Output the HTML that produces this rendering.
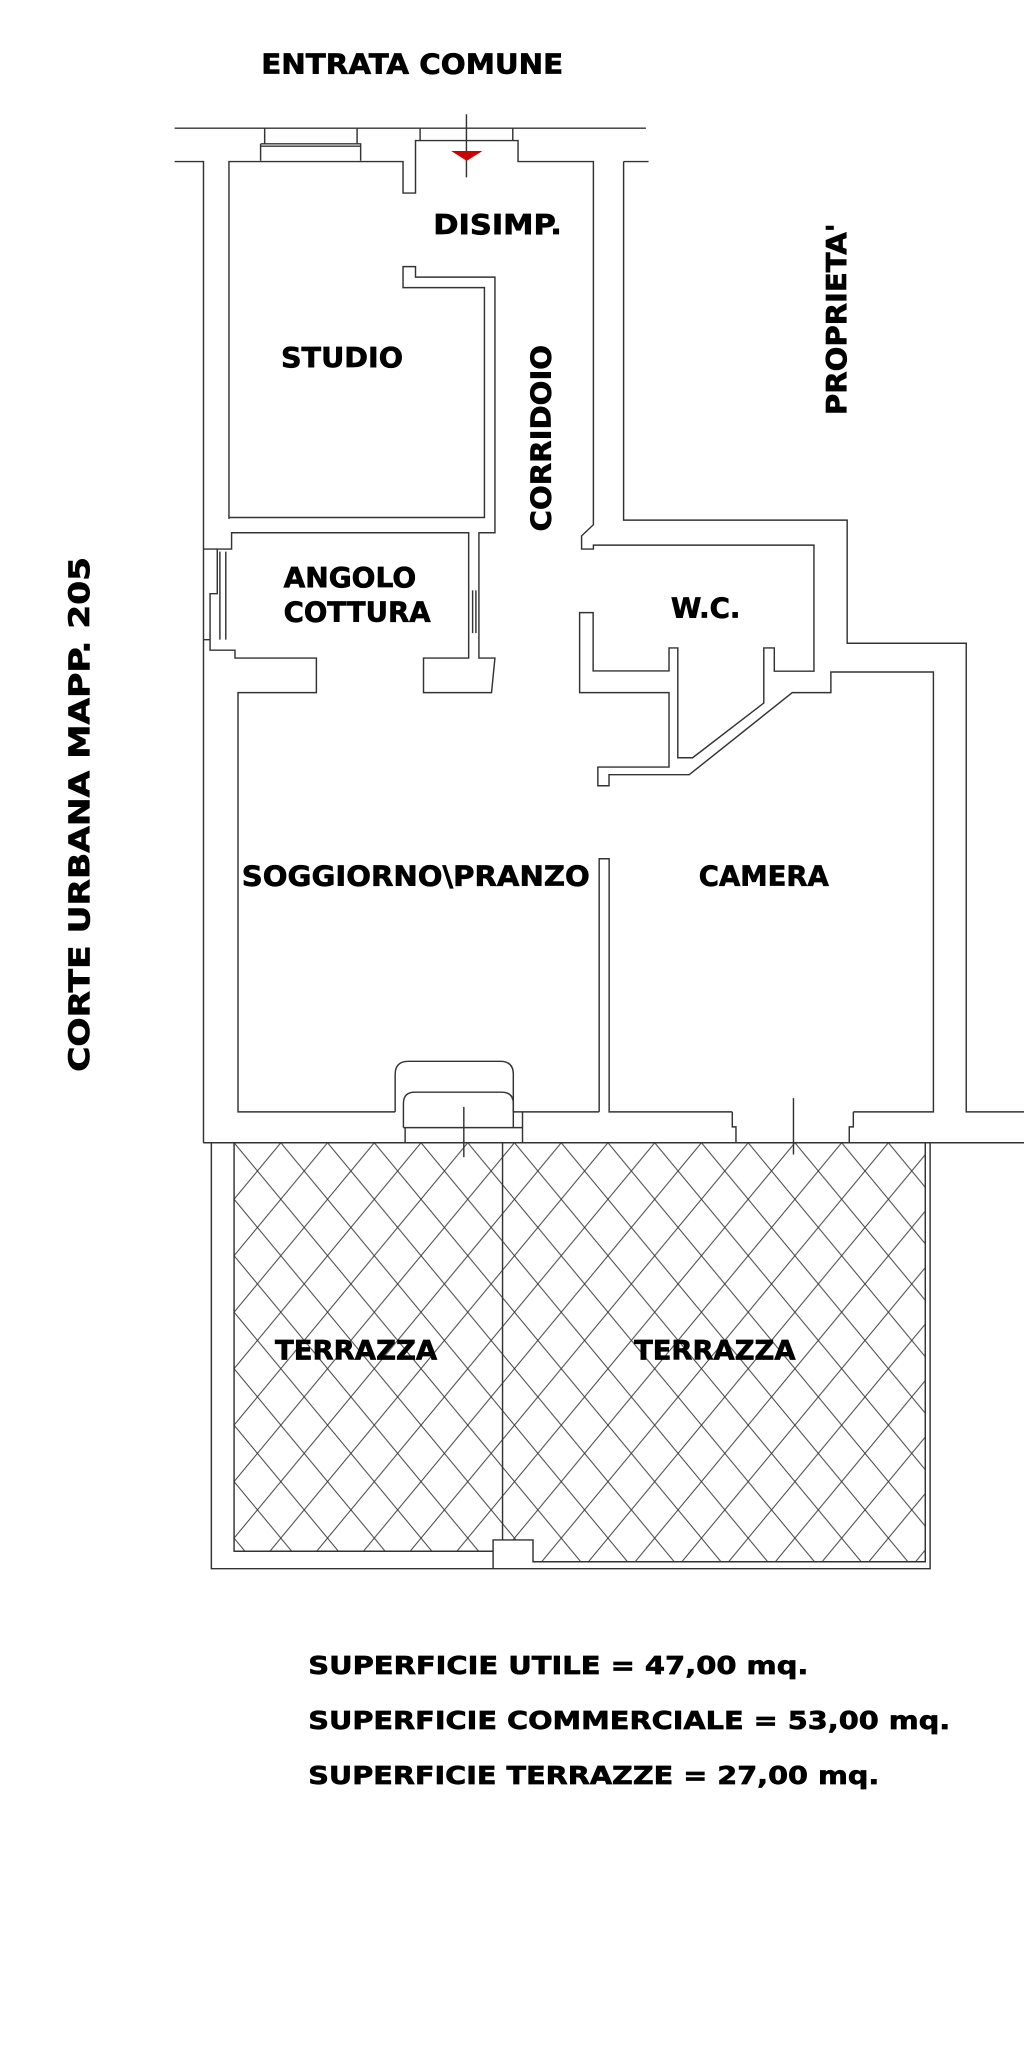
<!DOCTYPE html>
<html><head><meta charset="utf-8"><style>
html,body{margin:0;padding:0;background:#fff}
svg{display:block}
text{font-family:"DejaVu Sans","Liberation Sans",sans-serif;font-weight:bold;fill:#000;stroke:#000;stroke-width:0.5}
</style></head><body>
<svg width="1024" height="2053" viewBox="0 0 780 1563" preserveAspectRatio="none" xmlns="http://www.w3.org/2000/svg">
<defs>
<pattern id="h" patternUnits="userSpaceOnUse" width="35.6" height="43" x="178.3" y="870">
<path d="M0,0 L35.6,43 M35.6,0 L0,43" stroke="#333" stroke-width="0.7" fill="none"/>
</pattern>
</defs>
<rect x="178.3" y="870" width="204.5" height="311" fill="url(#h)"/>
<path d="M382.8,870 H704.8 V1189 H406 V1172.4 H382.8 Z" fill="url(#h)"/>
<g fill="none" stroke="#333" stroke-width="1.1">
<path d="M133,97.6 H492"/>
<path d="M201.6,97.6 V109.5 M272,97.6 V109.5 M198.5,109.5 H274.7 V122.4 M198.5,109.5 V122.4 M198.5,111.3 H274.7"/>
<path d="M320,97.6 V107 M390.6,97.6 V107"/>
<path d="M355.3,87 V135"/>
<path d="M133,123 H155 V870"/>
<path d="M475,123 H494"/>
<path d="M174.4,395 V123 H307 V147 H316.5 V107 H394.6 V123 H452 V399.5 L443,408 V418 H452 V415 H620 V511 H589.8 V493.3 H581.8 V535.2 L527.6,576.9 H516.3 V493.3 H509.6 V510.8 H451.8 V466.4 H441.5 V527.3 H509.6 V584 H455.4 V598.2 H463.9 V589.8 H525 L603.5,527.3 H632.9 V511.6 H711 V846.5 H650"/>
<path d="M174.4,394 H369 V219 H307 V203 H316.5 V211 H377 V405.6 H364.8 V501 H377 L374.4,527.3 H322.6 V501 H357 V405.6 H176.4 V418 H165.5 V452 H160 V495 H179 V501 H241 V527.3 H181.3 V846.5 H301"/>
<path d="M155,418 H165.5 M155,487 H160 M167.5,420 V487 M172,420 V487" />
<path d="M360,449.5 V482 M362.5,449.5 V482"/>
<path d="M475,123 V396 H645.3 V489.7 H736 V846.5 H780"/>
<path d="M456.4,846.5 V653.8 H464 V846.5 H557.8"/>
<path d="M301,846.5 V818 Q301,808 311,808 H381 Q391,808 391,818 V846.5"/>
<path d="M307.3,858.5 V840 Q307.3,831.5 316,831.5 H382 Q391,831.5 391,840 V858.5"/>
<path d="M307.3,858.5 H398 M398,846.5 V870 M308.6,858.5 V870 M391,846.5 H456.4"/>
<path d="M353.3,842.7 V881"/>
<path d="M557.8,846.5 V857.9 H560.6 V870 M650,846.5 V857.9 H646.9 V870"/>
<path d="M604.4,836 V879"/>
<path d="M154.8,870 H780"/>
<path d="M161,870 V1194.3 H708.5 V870"/>
<path d="M178.3,870 V1181 H375.6 M375.6,1194.3 V1172.4 H406 V1189 H704.8 V870"/>
<path d="M382.8,870 V1172.4"/>
</g>
<path d="M343.7,115 H367.5 L355.5,122.5 Z" fill="#c00"/>
<g>
<text x="199" y="56" font-size="21" textLength="230" lengthAdjust="spacingAndGlyphs">ENTRATA  COMUNE</text>
<text x="330" y="178" font-size="21" textLength="98" lengthAdjust="spacingAndGlyphs">DISIMP.</text>
<text x="214" y="279.5" font-size="21" textLength="93" lengthAdjust="spacingAndGlyphs">STUDIO</text>
<text transform="translate(419.5,404.6) rotate(-90)" font-size="21" textLength="142" lengthAdjust="spacingAndGlyphs">CORRIDOIO</text>
<text transform="translate(644.6,316) rotate(-90)" font-size="21" textLength="146" lengthAdjust="spacingAndGlyphs">PROPRIETA'</text>
<text x="216" y="447" font-size="21" textLength="101" lengthAdjust="spacingAndGlyphs">ANGOLO</text>
<text x="216" y="473.3" font-size="21" textLength="112" lengthAdjust="spacingAndGlyphs">COTTURA</text>
<text x="511" y="470.2" font-size="21" textLength="53" lengthAdjust="spacingAndGlyphs">W.C.</text>
<text x="184.2" y="674" font-size="21" textLength="265" lengthAdjust="spacingAndGlyphs">SOGGIORNO\PRANZO</text>
<text x="532.3" y="674" font-size="21" textLength="99" lengthAdjust="spacingAndGlyphs">CAMERA</text>
<text x="209.5" y="1035" font-size="20" textLength="123.5" lengthAdjust="spacingAndGlyphs">TERRAZZA</text>
<text x="483" y="1035" font-size="20" textLength="123" lengthAdjust="spacingAndGlyphs">TERRAZZA</text>
<text transform="translate(68,816) rotate(-90)" font-size="22" textLength="392" lengthAdjust="spacingAndGlyphs">CORTE    URBANA    MAPP.    205</text>
<text x="234.8" y="1274.4" font-size="19" textLength="381" lengthAdjust="spacingAndGlyphs">SUPERFICIE UTILE = 47,00 mq.</text>
<text x="234.8" y="1316.3" font-size="19" textLength="489" lengthAdjust="spacingAndGlyphs">SUPERFICIE COMMERCIALE = 53,00 mq.</text>
<text x="234.8" y="1358.3" font-size="19" textLength="435" lengthAdjust="spacingAndGlyphs">SUPERFICIE TERRAZZE = 27,00 mq.</text>
</g>
</svg>
</body></html>
